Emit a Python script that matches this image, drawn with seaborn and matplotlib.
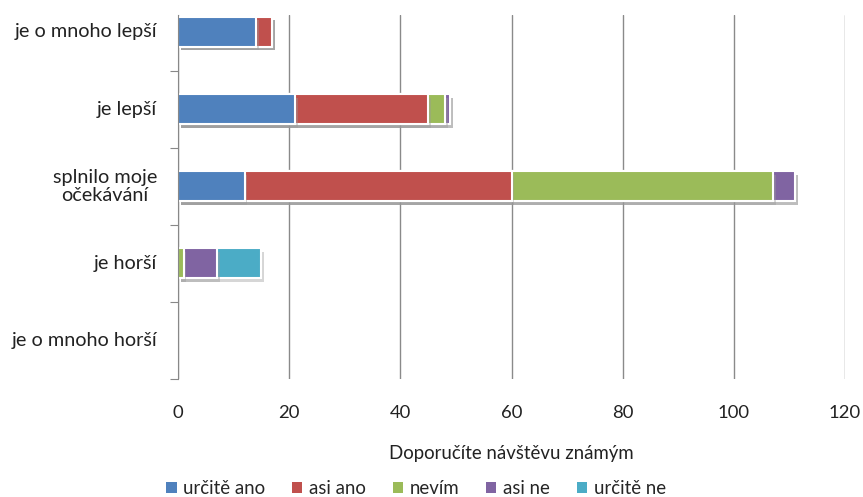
import numpy as np
import pandas as pd
import matplotlib.pyplot as plt
import matplotlib.patheffects as pe
from matplotlib.patches import Patch
import seaborn as sns

categories = ["je o mnoho lepší", "je lepší", "splnilo moje\nočekávání", "je horší", "je o mnoho horší"]
series = ["určitě ano", "asi ano", "nevím", "asi ne", "určitě ne"]
urcite_ano = [14, 21, 12, 0, 0]
asi_ano = [3, 24, 48, 0, 0]
nevim = [0, 3, 47, 1, 0]
asi_ne = [0, 1, 4, 6, 0]
urcite_ne = [0, 0, 0, 8, 0]
colors = ["#4F81BD", "#C0504D", "#9BBB59", "#8064A2", "#4BACC6"]

sns.set_style("white")
plt.rcParams["font.family"] = ["Lato", "DejaVu Sans"]

values = np.array([urcite_ano, asi_ano, nevim, asi_ne, urcite_ne], dtype=float)
cum = values.cumsum(axis=0)

fig = plt.figure(figsize=(8.63, 4.97), dpi=100)
ax = fig.add_axes([178 / 863, 1 - 379 / 497, (845 - 178) / 863, (379 - 15) / 497])

# stacked bars: draw cumulative totals from the last series back to the first
shadow = [pe.SimplePatchShadow(offset=(2, -2.5), shadow_rgbFace="#999999", alpha=0.4), pe.Normal()]
for i in range(len(series) - 1, -1, -1):
    df = pd.DataFrame({"cat": categories, "val": cum[i]})
    sns.barplot(data=df, x="val", y="cat", color=colors[i], orient="h", width=0.39,
                edgecolor="white", linewidth=1.5, saturation=1, ax=ax)
for p in ax.patches:
    if p.get_width() > 0:
        p.set_path_effects(shadow)
    else:
        p.set_visible(False)

ax.set_xlim(0, 120)
ax.set_xticks(range(0, 121, 20))
ax.set_ylim(len(categories) - 0.5, -0.22)
ax.set_yticks(np.arange(0.5, len(categories), 1))
ax.set_yticklabels([])
for k, c in enumerate(categories):
    ax.text(-3.8, k, c, ha="right", va="center", multialignment="center",
            fontsize=14.3, color="#222222", linespacing=1.05)
ax.tick_params(axis="y", direction="out", length=6, color="#888888", left=True)
ax.tick_params(axis="x", length=0, labelsize=13.3, labelcolor="#222222", pad=19)
ax.grid(axis="x", color="#8a8a8a", linewidth=1.0)
ax.set_axisbelow(True)
for s in ["top", "right", "bottom"]:
    ax.spines[s].set_visible(False)
ax.spines["left"].set_color("#888888")
ax.set_ylabel("")
ax.set_xlabel("Doporučíte návštěvu známým", fontsize=13.4, color="#222222", labelpad=17)

handles = [Patch(facecolor=c, edgecolor="none") for c in colors]
fig.legend(handles, series, loc="lower center", bbox_to_anchor=(0.482, -0.034), ncol=5, frameon=False,
           fontsize=13.4, handlelength=0.55, handleheight=0.55, handletextpad=0.35, columnspacing=1.45)

fig.savefig("out.png", dpi=100)
